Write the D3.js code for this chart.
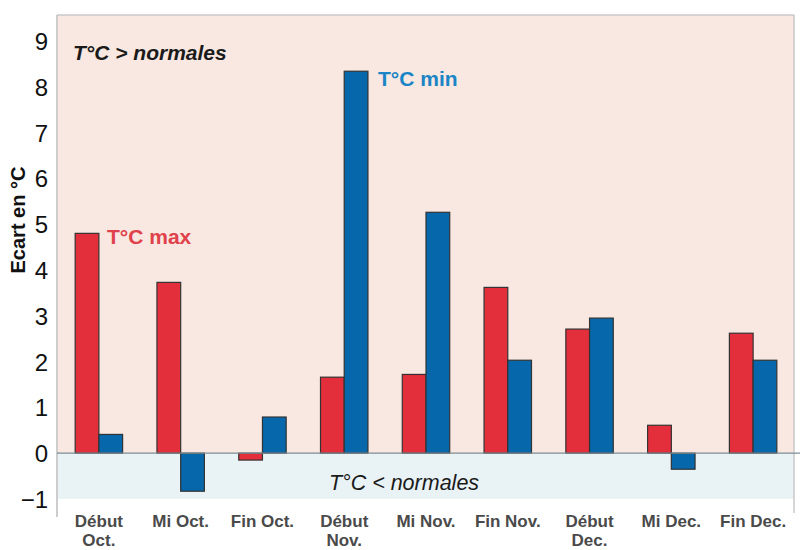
<!DOCTYPE html>
<html><head><meta charset="utf-8">
<script src="https://cdn.jsdelivr.net/npm/d3@7"></script>
<style>body{margin:0;background:#fff}svg{display:block}</style>
</head><body>
<svg id="c" width="800" height="550"></svg>
<script>
const categories = [["Début","Oct."],["Mi Oct."],["Fin Oct."],["Début","Nov."],["Mi Nov."],["Fin Nov."],["Début","Dec."],["Mi Dec."],["Fin Dec."]];
const tmax = [4.8, 3.73, -0.15, 1.66, 1.72, 3.62, 2.71, 0.61, 2.62];
const tmin = [0.41, -0.83, 0.79, 8.34, 5.26, 2.03, 2.95, -0.35, 2.03];
const yTicks = [-1,0,1,2,3,4,5,6,7,8,9];

const svg = d3.select("#c");
const left = 58, right = 794;
const font = "Liberation Sans, Arial, sans-serif";
const x = d3.scaleBand().domain(d3.range(categories.length)).range([left, right]);
const y = d3.scaleLinear().domain([-1, 9]).range([499, 41]);
const plotTop = y(9.57);

// background zones
svg.append("rect").attr("x", left).attr("y", plotTop).attr("width", right-left).attr("height", y(0)-plotTop).attr("fill", "#f8e8e1");
svg.append("rect").attr("x", left).attr("y", y(0)).attr("width", right-left).attr("height", y(-1)-y(0)).attr("fill", "#e9f2f5");

// frame
svg.append("line").attr("x1", left-1).attr("x2", right).attr("y1", plotTop).attr("y2", plotTop).attr("stroke", "#c8c8c8").attr("stroke-width", 1.5);
svg.append("line").attr("x1", left-1).attr("x2", left-1).attr("y1", plotTop).attr("y2", 517).attr("stroke", "#bdbdbd").attr("stroke-width", 1.5);
svg.append("line").attr("x1", right).attr("x2", right).attr("y1", plotTop).attr("y2", 513).attr("stroke", "#c8c8c8").attr("stroke-width", 1.5);

// y axis labels
const yAxis = d3.axisLeft(y).tickValues(yTicks).tickSize(0).tickPadding(0).tickFormat(d3.format("d"));
const ya = svg.append("g").attr("transform", `translate(${left-10},0)`).call(yAxis);
ya.select(".domain").remove();
ya.selectAll("text").attr("font-family", font).attr("font-size", 24).attr("fill", "#111").attr("dy", "0.35em");

svg.append("text").attr("transform", `translate(25,220) rotate(-90)`)
  .attr("text-anchor", "middle").attr("font-family", font)
  .attr("font-weight", "bold").attr("font-size", 20).attr("fill", "#111").text("Ecart en °C");

const bw = x.bandwidth() * 0.29;
const g = svg.append("g");
g.selectAll("rect.max").data(tmax).join("rect").attr("class","max")
  .attr("x", (d,i) => x(i) + x.bandwidth()/2 - bw)
  .attr("y", d => y(Math.max(0,d))).attr("width", bw)
  .attr("height", d => Math.abs(y(d)-y(0)))
  .attr("fill", "#e32e3b").attr("stroke", "#333").attr("stroke-width", 1.2);
g.selectAll("rect.min").data(tmin).join("rect").attr("class","min")
  .attr("x", (d,i) => x(i) + x.bandwidth()/2)
  .attr("y", d => y(Math.max(0,d))).attr("width", bw)
  .attr("height", d => Math.abs(y(d)-y(0)))
  .attr("fill", "#0667aa").attr("stroke", "#333").attr("stroke-width", 1.2);

// zero line
svg.append("line").attr("x1", left-1).attr("x2", 800).attr("y1", y(0)).attr("y2", y(0)).attr("stroke", "#7d8c93").attr("stroke-width", 1.2);

// x labels
const xl = svg.append("g");
categories.forEach((c, i) => {
  const t = xl.append("text").attr("x", x(i) + x.bandwidth()/2).attr("y", 527)
    .attr("text-anchor", "middle").attr("font-family", font)
    .attr("font-weight", "bold").attr("font-size", 17).attr("fill", "#4a4a4a");
  c.forEach((line, k) => t.append("tspan").attr("x", x(i) + x.bandwidth()/2).attr("dy", k === 0 ? 0 : 19).text(line));
});

// annotations
svg.append("text").attr("x", 73).attr("y", 60).attr("font-family", font).attr("font-weight", "bold").attr("font-style", "italic").attr("font-size", 21).attr("fill", "#1a1a1a").text("T°C > normales");
svg.append("text").attr("x", 378).attr("y", 86).attr("font-family", font).attr("font-weight", "bold").attr("font-size", 21).attr("fill", "#1a85c6").text("T°C min");
svg.append("text").attr("x", 107).attr("y", 244).attr("font-family", font).attr("font-weight", "bold").attr("font-size", 21).attr("fill", "#e0414b").text("T°C max");
svg.append("text").attr("x", 404).attr("y", 490).attr("text-anchor", "middle").attr("font-family", font).attr("font-style", "italic").attr("font-size", 21.5).attr("fill", "#1a1a1a").text("T°C < normales");
</script>
</body></html>
